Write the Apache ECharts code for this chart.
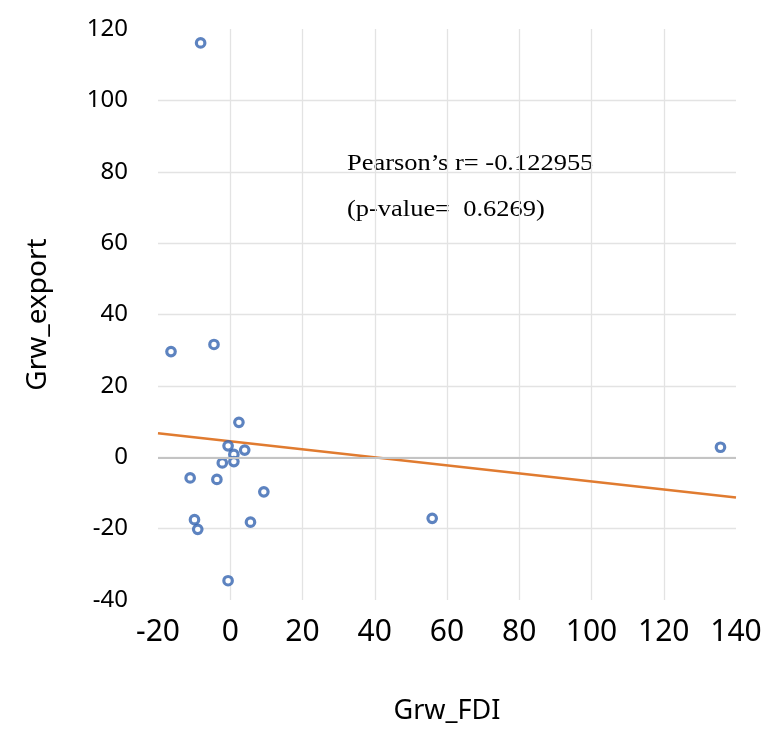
<!DOCTYPE html>
<html>
<head>
<meta charset="utf-8">
<script src="https://cdn.jsdelivr.net/npm/echarts@6/dist/echarts.min.js"></script>
<style>
  html, body { margin: 0; padding: 0; background: #ffffff; }
  #chart { width: 768px; height: 735px; }
</style>
</head>
<body>
<div id="chart"></div>
<script>
// Data
const grwFDI = [-16.4, -4.5, 2.4, -0.6, 4.0, 1.0, 1.0, -2.2, -11.1, -3.7, 9.3, -9.9, -9.0, 5.6, -0.6, -8.2, 55.9, 135.7];
const grwExport = [29.6, 31.6, 9.8, 3.2, 2.0, 0.8, -1.2, -1.6, -5.8, -6.2, -9.7, -17.5, -20.2, -18.2, -34.6, 116.1, -17.1, 2.8];
const xTicks = [-20, 0, 20, 40, 60, 80, 100, 120, 140];
const yTicks = [-40, -20, 0, 20, 40, 60, 80, 100, 120];
const annotationLines = ["Pearson\u2019s r= -0.122955", "(p-value=  0.6269)"];
const xTitle = "Grw_FDI";
const yTitle = "Grw_export";

// Linear trendline (least squares) computed from the data
const n = grwFDI.length;
const mx = grwFDI.reduce((a, b) => a + b, 0) / n;
const my = grwExport.reduce((a, b) => a + b, 0) / n;
let sxy = 0, sxx = 0;
for (let i = 0; i < n; i++) {
  sxy += (grwFDI[i] - mx) * (grwExport[i] - my);
  sxx += (grwFDI[i] - mx) * (grwFDI[i] - mx);
}
const slope = sxy / sxx;
const intercept = my - slope * mx;
const xMin = xTicks[0], xMax = xTicks[xTicks.length - 1];
const trend = [[xMin, intercept + slope * xMin], [xMax, intercept + slope * xMax]];

const points = grwFDI.map((x, i) => [x, grwExport[i]]);

const chart = echarts.init(document.getElementById('chart'), null, { renderer: 'canvas' });

chart.setOption({
  animation: false,
  backgroundColor: '#ffffff',
  grid: { left: 158, right: 32, top: 29, bottom: 135, containLabel: false },
  xAxis: {
    type: 'value',
    min: xMin, max: xMax, interval: 20,
    name: xTitle, nameLocation: 'middle', nameGap: 98,
    nameTextStyle: { fontFamily: 'Noto Sans', fontSize: 27, color: '#000000' },
    axisLine: { show: false, onZero: false },
    axisTick: { show: false },
    axisLabel: { margin: 17, fontFamily: 'Noto Sans', fontSize: 30, color: '#000000' },
    splitLine: { show: true, showMinLine: false, showMaxLine: false, lineStyle: { color: '#e3e3e3', width: 1.3 } }
  },
  yAxis: {
    type: 'value',
    min: yTicks[0], max: yTicks[yTicks.length - 1], interval: 20,
    name: yTitle, nameLocation: 'middle', nameGap: 106, nameRotate: 90,
    nameTextStyle: { fontFamily: 'Noto Sans', fontSize: 28, color: '#000000' },
    axisLine: { show: false, onZero: false },
    axisTick: { show: false },
    axisLabel: { margin: 30, fontFamily: 'Noto Sans', fontSize: 24, color: '#000000' },
    splitLine: { show: true, showMinLine: false, showMaxLine: false, lineStyle: { color: '#e3e3e3', width: 1.3 } }
  },
  graphic: [
    { type: 'text', left: 347, top: 152, scaleX: 1.15, style: { text: annotationLines[0], font: '23px "Liberation Serif"', fill: '#000000' } },
    { type: 'text', left: 347, top: 198, scaleX: 1.15, style: { text: annotationLines[1], font: '23px "Liberation Serif"', fill: '#000000' } }
  ],
  series: [
    {
      type: 'line',
      data: trend,
      showSymbol: false,
      symbol: 'none',
      lineStyle: { color: '#E07B30', width: 2.6 },
      z: 2,
      silent: true,
      markLine: {
        silent: true,
        symbol: 'none',
        label: { show: false },
        lineStyle: { color: '#c4c4c4', width: 2, type: 'solid' },
        data: [{ yAxis: 0 }]
      }
    },
    {
      type: 'scatter',
      data: points,
      symbol: 'circle',
      symbolSize: 8.5,
      itemStyle: { color: '#ffffff', borderColor: '#3464B0', borderWidth: 3.2 },
      z: 3
    }
  ]
});
</script>
</body>
</html>
